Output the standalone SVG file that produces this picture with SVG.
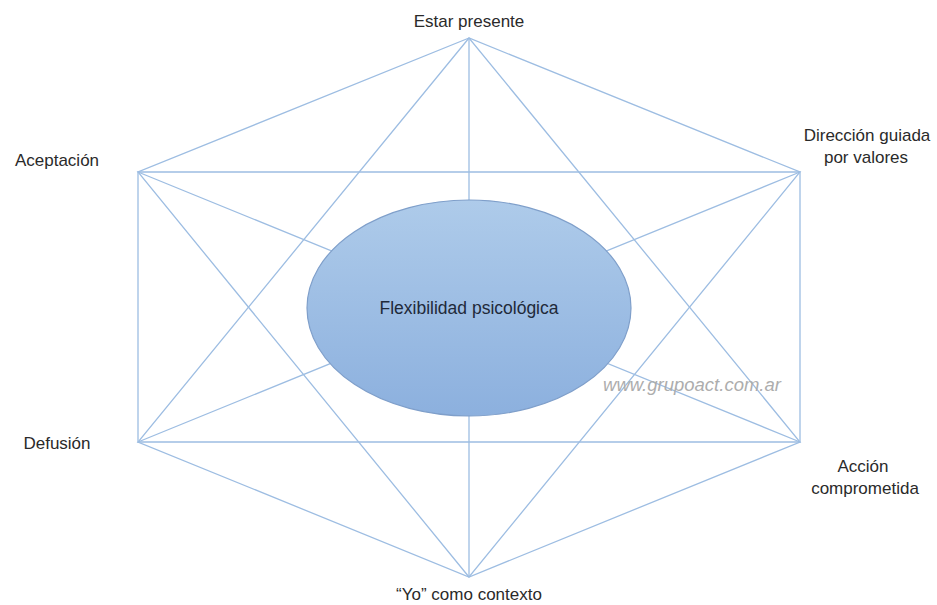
<svg xmlns="http://www.w3.org/2000/svg" width="937" height="605" viewBox="0 0 937 605">
<defs>
<linearGradient id="g" x1="0" y1="0" x2="0" y2="1">
<stop offset="0" stop-color="#aecbea"/>
<stop offset="1" stop-color="#8cb0de"/>
</linearGradient>
</defs>
<style>
.l{stroke:#9dbde2;stroke-width:1.3;fill:none}
.t{font-family:"Liberation Sans",Arial,sans-serif;font-size:17px;fill:#2a2a2a;text-anchor:middle}
.w{font-family:"Liberation Sans",Arial,sans-serif;font-size:18.5px;font-style:italic;fill:#adadad;text-anchor:middle}
</style>
<rect width="937" height="605" fill="#fff"/>
<g id="connectors">
<path class="l" d="M469,38L138,172L138,442L469,577L800,442L800,172Z"/>
<path class="l" d="M469,38L138,442L800,442Z"/>
<path class="l" d="M469,577L138,172L800,172Z"/>
<path class="l" d="M469,38L469,577M138,172L800,442M138,442L800,172"/>
</g>
<g id="center">
<ellipse cx="469" cy="308" rx="162" ry="108" fill="url(#g)" stroke="#7f9fca" stroke-width="1.2"/>
<text class="t" x="469" y="314" style="font-size:17.5px;fill:#1f2a3a">Flexibilidad psicológica</text>
</g>
<g id="n-estar"><text class="t" x="469" y="27">Estar presente</text></g>
<g id="n-aceptacion"><text class="t" x="57" y="166">Aceptación</text></g>
<g id="n-direccion"><text class="t" x="867" y="141">Dirección guiada</text><text class="t" x="866" y="163">por valores</text></g>
<g id="n-defusion"><text class="t" x="57" y="449">Defusión</text></g>
<g id="n-accion"><text class="t" x="863" y="472">Acción</text><text class="t" x="865" y="494">comprometida</text></g>
<g id="n-yo"><text class="t" x="469" y="600">“Yo” como contexto</text></g>
<g id="watermark"><text class="w" x="692" y="391">www.grupoact.com.ar</text></g>
</svg>
